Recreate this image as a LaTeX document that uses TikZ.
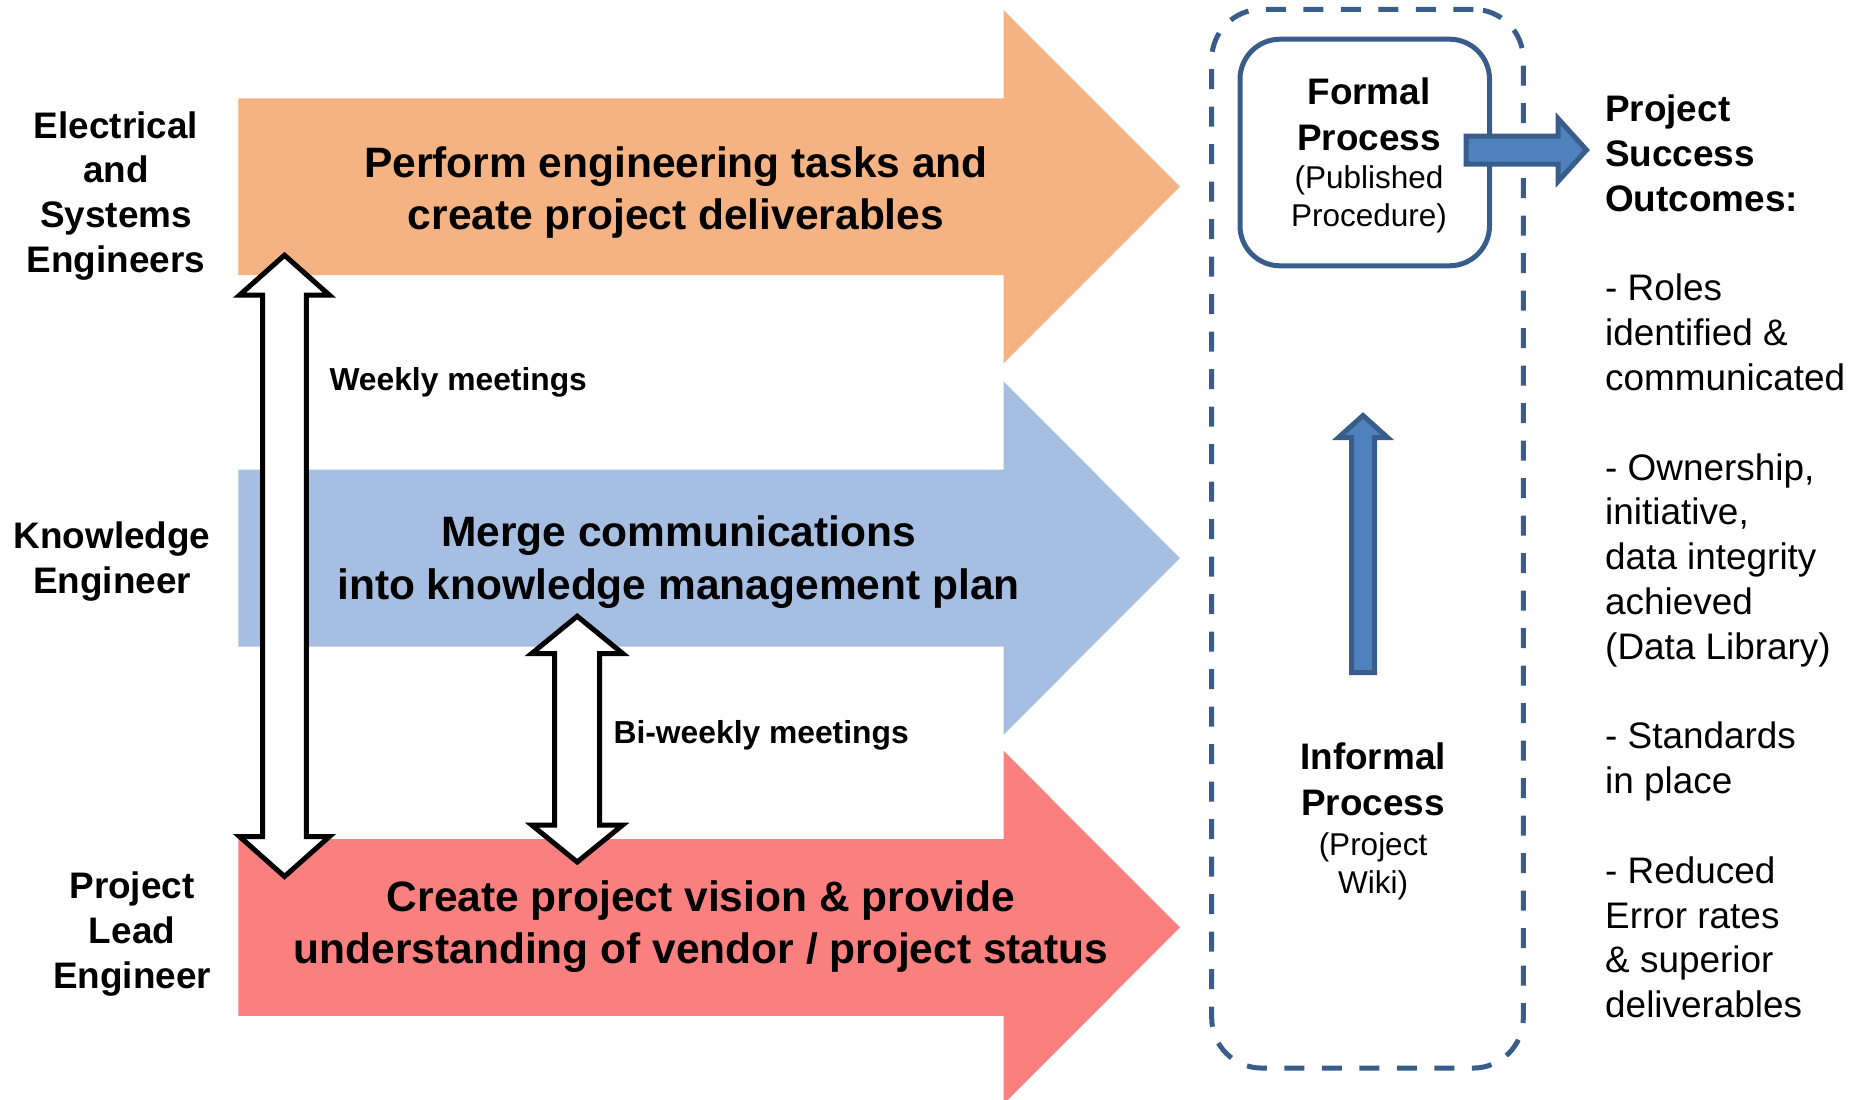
\documentclass[tikz,border=0pt]{standalone}
\usepackage{fontspec}
\setmainfont{Liberation Sans}
\definecolor{orangeA}{RGB}{245,178,130}
\definecolor{blueA}{RGB}{166,190,225}
\definecolor{redA}{RGB}{250,128,128}
\definecolor{edgeblue}{RGB}{56,93,138}
\definecolor{fillblue}{RGB}{79,129,189}
\begin{document}
\begin{tikzpicture}[x=1pt,y=-1pt,
  bigtext/.style={font=\fontsize{42.5}{52.3}\selectfont\bfseries, align=center, anchor=base, inner sep=0pt},
  roletext/.style={font=\fontsize{36.9}{44.8}\selectfont\bfseries, align=center, anchor=base, inner sep=0pt},
  meettext/.style={font=\fontsize{31.8}{38}\selectfont\bfseries, anchor=base west, inner sep=0pt},
  proctitle/.style={font=\fontsize{36.9}{46}\selectfont\bfseries, align=center, anchor=base, inner sep=0pt},
  procsub/.style={font=\fontsize{31.5}{38.3}\selectfont, align=center, anchor=base, inner sep=0pt},
  outtitle/.style={font=\fontsize{36.9}{44.8}\selectfont\bfseries, align=left, anchor=base west, inner sep=0pt},
  outtext/.style={font=\fontsize{36.9}{44.8}\selectfont, align=left, anchor=base west, inner sep=0pt},
  whitearrow/.style={draw=black, fill=white, line width=5pt, line join=miter},
  bluearrow/.style={draw=edgeblue, fill=fillblue, line width=5pt, line join=miter},
  procbox/.style={draw=edgeblue, line width=5pt, rounded corners=40pt, minimum width=249.5pt, minimum height=226.6pt, inner sep=0pt},
  groupbox/.style={draw=edgeblue, line width=5pt, rounded corners=50pt, dash pattern=on 20pt off 17.5pt, minimum width=311.6pt, minimum height=1058.7pt, inner sep=0pt},
]
\useasboundingbox (0,0) rectangle (1864,1100);
\begin{scope}
\clip (0,0) rectangle (1864,1100);
% big coloured process arrows
\fill[orangeA, shift={(0,186.7)}] (238.3,-88.4) -- (1003.5,-88.4) -- (1003.5,-176.7) -- (1180,0) -- (1003.5,176.7) -- (1003.5,88.4) -- (238.3,88.4) -- cycle;
\fill[blueA, shift={(0,558.1)}] (238.3,-88.4) -- (1003.5,-88.4) -- (1003.5,-176.7) -- (1180,0) -- (1003.5,176.7) -- (1003.5,88.4) -- (238.3,88.4) -- cycle;
\fill[redA, shift={(0,927.4)}] (238.3,-88.4) -- (1003.5,-88.4) -- (1003.5,-176.7) -- (1180,0) -- (1003.5,176.7) -- (1003.5,88.4) -- (238.3,88.4) -- cycle;
\end{scope}

% white double arrows
\draw[whitearrow] (284.5,255.2) -- (329.5,295.2) -- (306.3,295.2) -- (306.3,836.5) -- (329.5,836.5) -- (284.5,876.5) -- (239.5,836.5) -- (262.7,836.5) -- (262.7,295.2) -- (239.5,295.2) -- cycle;
\draw[whitearrow] (577.2,616.2) -- (622.7,653.5) -- (599.7,653.5) -- (599.7,825) -- (622.7,825) -- (577.2,862) -- (531.7,825) -- (554.7,825) -- (554.7,653.5) -- (531.7,653.5) -- cycle;

% arrow texts (node anchored at the baseline of the last line)
\node[bigtext] (perform) at (676,229.3) {Perform engineering tasks and\\create project deliverables};
\node[bigtext] (merge) at (678.5,599) {Merge communications\\into knowledge management plan};
\node[bigtext] (vision) at (701,963.6) {Create project vision \& provide\\understanding of vendor / project status};

% role labels
\node[roletext] (eng) at (116,272.5) {Electrical\\and\\Systems\\Engineers};
\node[roletext] (ke) at (112,593.1) {Knowledge\\Engineer};
\node[roletext] (lead) at (132,988.5) {Project\\Lead\\Engineer};

% meeting labels
\node[meettext] (weekly) at (329.3,390.4) {Weekly meetings};
\node[meettext] (biweekly) at (613.4,743.7) {Bi-weekly meetings};

% process group
\node[groupbox] (group) at (1367.5,538.7) {};
\node[procbox] (formal) at (1364.75,152.5) {};
\node[proctitle] (formalT) at (1369,150) {Formal\\Process};
\node[procsub] (formalS) at (1369,226.3) {(Published\\Procedure)};
\node[proctitle] (informalT) at (1373,815.7) {Informal\\Process};
\node[procsub] (informalS) at (1373,893.3) {(Project\\Wiki)};

% blue arrows
\draw[bluearrow] (1351.5,672.5) -- (1351.5,437.5) -- (1338.5,437.5) -- (1363,415.5) -- (1387.5,437.5) -- (1374.5,437.5) -- (1374.5,672.5) -- cycle;
\draw[bluearrow] (1466,136) -- (1558,136) -- (1558,118.5) -- (1586.5,150) -- (1558,181.5) -- (1558,164) -- (1466,164) -- cycle;

% outcomes
\node[outtitle] (outT) at (1605,211.2) {Project\\Success\\Outcomes:};
\node[outtext] (o1) at (1605,390.4) {- Roles\\identified \&\\communicated};
\node[outtext] (o2) at (1605,659.2) {- Ownership,\\initiative,\\data integrity\\achieved\\(Data Library)};
\node[outtext] (o3) at (1605,793.6) {- Standards\\in place};
\node[outtext] (o4) at (1605,1017.6) {- Reduced\\Error rates\\\& superior\\deliverables};
\end{tikzpicture}
\end{document}
